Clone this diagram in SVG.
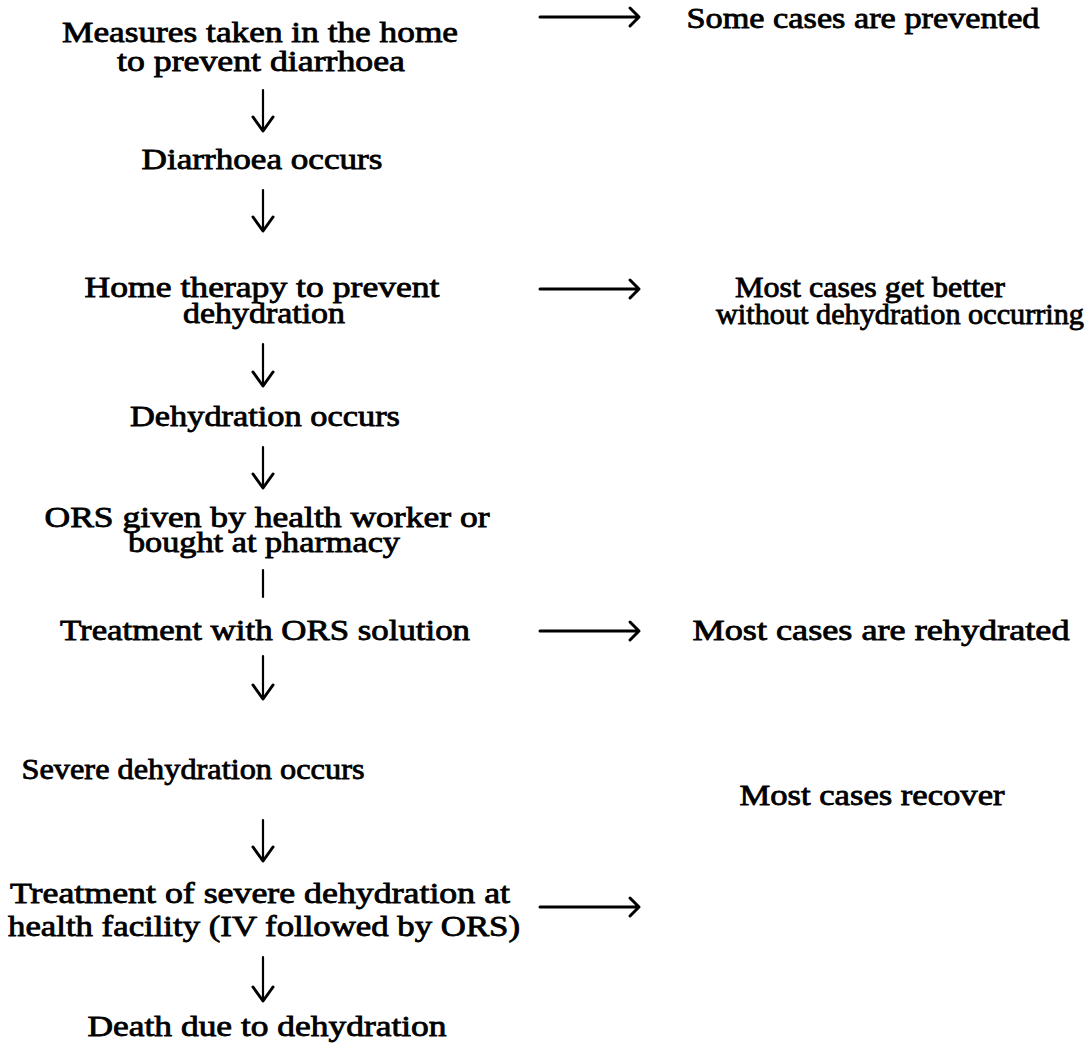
<svg xmlns="http://www.w3.org/2000/svg" width="1086" height="1044" viewBox="0 0 1086 1044">
<style>
text{font-family:"Liberation Serif","Times New Roman",serif;font-size:29px;fill:#000;stroke:#000;stroke-width:0.8;text-anchor:middle}
.c{fill:none;stroke:#000;stroke-width:2.2;stroke-linecap:round;stroke-linejoin:round}
.h{fill:none;stroke:#000;stroke-width:3;stroke-linecap:round;stroke-linejoin:round}
</style>
<rect width="1086" height="1044" fill="#fff"/>
<g id="n1"><text x="260" y="42" textLength="396" lengthAdjust="spacingAndGlyphs">Measures taken in the home</text><text x="261" y="71" textLength="288" lengthAdjust="spacingAndGlyphs">to prevent diarrhoea</text></g>
<g id="n2"><text x="262" y="169" textLength="241" lengthAdjust="spacingAndGlyphs">Diarrhoea occurs</text></g>
<g id="n3"><text x="262" y="297" textLength="355" lengthAdjust="spacingAndGlyphs">Home therapy to prevent</text><text x="264" y="323" textLength="162" lengthAdjust="spacingAndGlyphs">dehydration</text></g>
<g id="n4"><text x="265" y="426" textLength="270" lengthAdjust="spacingAndGlyphs">Dehydration occurs</text></g>
<g id="n5"><text x="267" y="527" textLength="445" lengthAdjust="spacingAndGlyphs">ORS given by health worker or</text><text x="264" y="552" textLength="272" lengthAdjust="spacingAndGlyphs">bought at pharmacy</text></g>
<g id="n6"><text x="265" y="640" textLength="410" lengthAdjust="spacingAndGlyphs">Treatment with ORS solution</text></g>
<g id="n7"><text x="193" y="779" textLength="343" lengthAdjust="spacingAndGlyphs">Severe dehydration occurs</text></g>
<g id="n8"><text x="260" y="903" textLength="500" lengthAdjust="spacingAndGlyphs">Treatment of severe dehydration at</text><text x="264" y="936" textLength="512" lengthAdjust="spacingAndGlyphs">health facility (IV followed by ORS)</text></g>
<g id="n9"><text x="267" y="1036" textLength="359" lengthAdjust="spacingAndGlyphs">Death due to dehydration</text></g>
<g id="r1"><text x="863" y="28" textLength="353" lengthAdjust="spacingAndGlyphs">Some cases are prevented</text></g>
<g id="r2"><text x="870" y="297" textLength="270" lengthAdjust="spacingAndGlyphs">Most cases get better</text><text x="900" y="324" textLength="368" lengthAdjust="spacingAndGlyphs">without dehydration occurring</text></g>
<g id="r3"><text x="881" y="640" textLength="377" lengthAdjust="spacingAndGlyphs">Most cases are rehydrated</text></g>
<g id="r4"><text x="872" y="805" textLength="265" lengthAdjust="spacingAndGlyphs">Most cases recover</text></g>
<g id="connectors">
<path class="c" d="M263 90V130"/><path class="h" d="M253 117L263 131L273 117"/>
<path class="c" d="M263 190V230"/><path class="h" d="M253 217L263 231L273 217"/>
<path class="c" d="M263 344V385"/><path class="h" d="M253 372L263 386L273 372"/>
<path class="c" d="M263 447V487"/><path class="h" d="M253 474L263 488L273 474"/>
<path class="c" d="M263 570V597"/>
<path class="c" d="M263 656V698"/><path class="h" d="M253 685L263 699L273 685"/>
<path class="c" d="M263 820V860"/><path class="h" d="M253 847L263 861L273 847"/>
<path class="c" d="M263 957V1000"/><path class="h" d="M253 987L263 1001L273 987"/>
<path class="h" d="M540 17H639M630 8L639 17L630 26"/>
<path class="h" d="M540 289H639M630 280L639 289L630 298"/>
<path class="h" d="M540 631H639M630 622L639 631L630 640"/>
<path class="h" d="M540 907H639M630 898L639 907L630 916"/>
</g>
</svg>
